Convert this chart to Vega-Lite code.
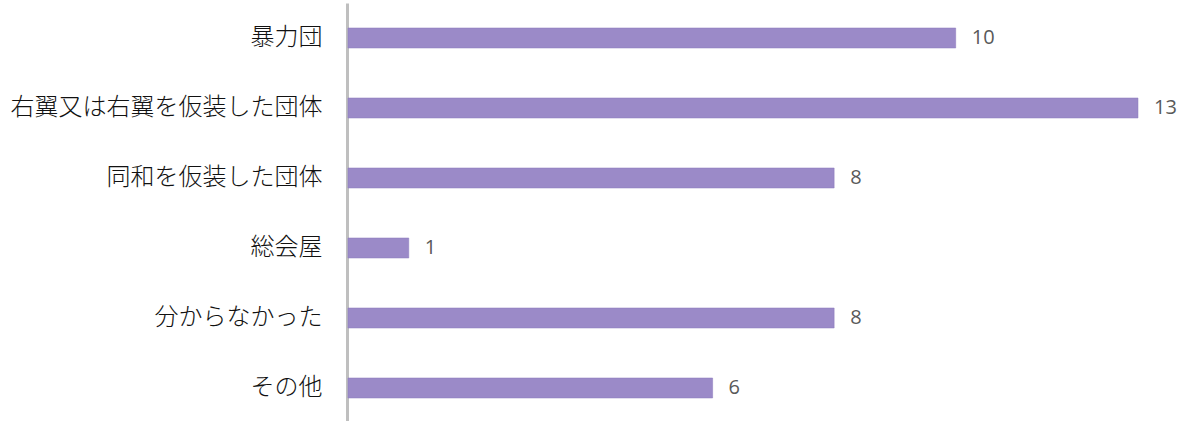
{
  "$schema": "https://vega.github.io/schema/vega-lite/v6.json",
  "autosize": {"type": "none"},
  "padding": {"left": 348, "top": 3, "right": 50, "bottom": 0},
  "width": 790,
  "height": 420,
  "background": "white",
  "config": {"view": {"stroke": null}},
  "data": {
    "values": [
      {"category": "暴力団", "count": 10},
      {"category": "右翼又は右翼を仮装した団体", "count": 13},
      {"category": "同和を仮装した団体", "count": 8},
      {"category": "総会屋", "count": 1},
      {"category": "分からなかった", "count": 8},
      {"category": "その他", "count": 6}
    ]
  },
  "encoding": {
    "y": {
      "field": "category",
      "type": "nominal",
      "sort": null,
      "scale": {"paddingInner": 0.714, "paddingOuter": 0.357},
      "axis": {
        "title": null,
        "ticks": false,
        "grid": false,
        "domainColor": "#BFBFBF",
        "domainWidth": 3,
        "offset": 1,
        "labelPadding": 25,
        "labelLimit": 0,
        "labelFont": "Noto Sans CJK JP",
        "labelFontSize": 24,
        "labelFontWeight": 300,
        "labelColor": "#111111"
      }
    },
    "x": {
      "field": "count",
      "type": "quantitative",
      "scale": {"domain": [0, 13], "nice": false},
      "axis": null
    }
  },
  "layer": [
    {"mark": {"type": "bar", "color": "#9B8AC8", "stroke": "#8B79BC", "strokeWidth": 0.5}},
    {
      "mark": {"type": "text", "align": "left", "baseline": "middle", "dx": 16, "font": "Open Sans", "fontSize": 20, "color": "#595959"},
      "encoding": {"text": {"field": "count", "type": "quantitative"}}
    }
  ]
}
